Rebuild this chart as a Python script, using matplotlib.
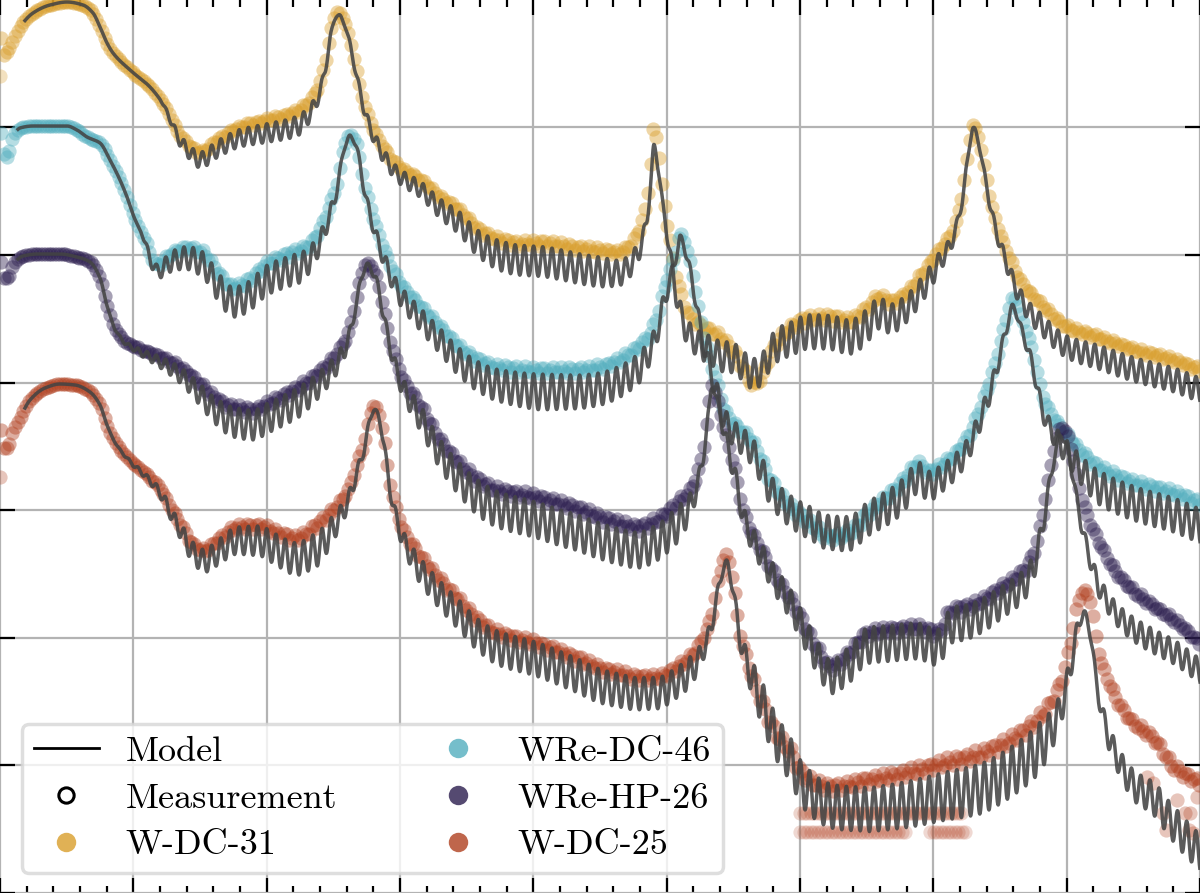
import numpy as np
import matplotlib
matplotlib.use("Agg")
import matplotlib.pyplot as plt
from matplotlib.lines import Line2D
from matplotlib.ticker import MultipleLocator

# ---------------- data (arbitrary units, waterfall offsets included) ----------------
labels = ["W-DC-31", "WRe-DC-46", "WRe-HP-26", "W-DC-25"]
colors = ["#D99E2B", "#52AEBE", "#2B1D4E", "#B0401F"]

# measurement control points
wdc31_x = [1, 4, 8, 20, 33, 50, 67, 83, 93, 100, 107, 113, 130, 150, 167, 177, 187, 200, 217, 240, 267, 293, 306, 318, 325, 331, 337, 344, 352, 360, 367, 379, 398, 421, 440, 459, 478, 498, 520, 540, 560, 580, 600, 619, 630, 638, 646, 651, 654, 658, 663, 670, 677, 688, 700, 715, 734, 745, 753, 762, 772, 791, 810, 830, 849, 868, 879, 891, 906, 925, 937, 952, 962, 967, 973, 979, 985, 994, 1006, 1021, 1040, 1067, 1098, 1136, 1174, 1200]
wdc31_y = [855, 838, 843, 866, 880, 888, 891, 888, 880, 866, 850, 840, 823, 806, 783, 763, 750, 741, 753, 766, 773, 780, 788, 806, 830, 863, 881, 873, 843, 806, 780, 753, 727, 713, 696, 683, 664, 654, 650, 650, 648, 645, 643, 641, 648, 661, 688, 733, 766, 743, 698, 653, 613, 580, 568, 560, 541, 521, 508, 518, 543, 566, 575, 576, 573, 586, 597, 591, 600, 623, 640, 661, 698, 733, 768, 753, 721, 678, 643, 611, 590, 566, 556, 543, 533, 523]

wre46_x = [1, 3, 7, 13, 20, 33, 67, 77, 87, 100, 110, 120, 127, 134, 145, 153, 157, 172, 188, 203, 218, 233, 245, 268, 291, 306, 318, 329, 337, 344, 350, 356, 364, 373, 383, 398, 421, 440, 459, 478, 498, 536, 574, 600, 619, 638, 650, 657, 663, 671, 677, 680, 686, 694, 703, 715, 726, 753, 772, 791, 810, 830, 849, 868, 891, 906, 918, 929, 944, 964, 983, 994, 1006, 1013, 1021, 1032, 1044, 1071, 1098, 1136, 1174, 1200]
wre46_y = [760, 740, 736, 756, 765, 767, 767, 763, 756, 750, 733, 713, 696, 676, 653, 633, 628, 640, 645, 640, 620, 606, 610, 630, 640, 646, 660, 686, 710, 746, 758, 750, 710, 676, 646, 613, 586, 566, 546, 533, 526, 523, 523, 526, 533, 546, 560, 576, 600, 626, 646, 660, 646, 610, 560, 516, 480, 450, 410, 386, 370, 356, 360, 380, 400, 416, 430, 421, 430, 450, 493, 526, 573, 596, 576, 543, 493, 453, 426, 410, 400, 390]

wre26_x = [1, 4, 8, 13, 23, 38, 60, 77, 90, 100, 107, 115, 126, 138, 161, 180, 199, 214, 233, 253, 268, 299, 318, 337, 348, 356, 362, 367, 375, 383, 390, 402, 421, 440, 459, 478, 498, 536, 574, 600, 619, 638, 657, 677, 692, 703, 709, 712, 716, 722, 734, 745, 761, 776, 791, 807, 822, 830, 849, 868, 891, 918, 937, 952, 967, 983, 1002, 1021, 1032, 1040, 1048, 1055, 1061, 1067, 1071, 1082, 1098, 1117, 1136, 1155, 1174, 1200]
wre26_y = [631, 615, 615, 628, 637, 639, 639, 636, 631, 615, 588, 565, 551, 545, 536, 526, 510, 496, 486, 483, 490, 506, 520, 540, 560, 593, 620, 630, 620, 586, 553, 516, 486, 453, 430, 413, 403, 396, 386, 376, 370, 366, 373, 390, 406, 443, 488, 508, 498, 473, 426, 376, 343, 316, 293, 263, 236, 226, 240, 260, 263, 266, 260, 283, 286, 293, 306, 320, 336, 366, 410, 448, 466, 458, 443, 393, 353, 320, 300, 286, 273, 250]

wdc25_x = [1, 4, 8, 12, 19, 30, 45, 60, 75, 90, 100, 107, 115, 130, 145, 161, 172, 184, 191, 203, 218, 237, 260, 276, 295, 314, 333, 348, 356, 364, 370, 374, 378, 383, 390, 402, 421, 440, 459, 478, 498, 536, 574, 600, 619, 638, 657, 677, 696, 711, 719, 726, 732, 740, 749, 761, 776, 791, 803, 830, 868, 906, 944, 983, 1021, 1040, 1059, 1071, 1078, 1084, 1090, 1098, 1109, 1128, 1155, 1174, 1200]
wdc25_y = [463, 445, 446, 460, 473, 493, 505, 509, 508, 501, 488, 468, 451, 433, 420, 403, 383, 363, 351, 343, 353, 366, 367, 361, 355, 366, 383, 403, 426, 450, 478, 488, 481, 460, 410, 366, 336, 313, 293, 273, 260, 250, 236, 225, 220, 216, 216, 226, 243, 276, 316, 338, 316, 260, 226, 193, 160, 140, 118, 106, 113, 120, 130, 140, 160, 176, 206, 253, 290, 303, 293, 243, 210, 176, 153, 126, 110]

meas_x = [wdc31_x, wre46_x, wre26_x, wdc25_x]
meas_y = [wdc31_y, wre46_y, wre26_y, wdc25_y]

# extra (noisy) measurement points
extra_x = [[0], [], [], [0, 1147, 1153, 1163, 1166, 1177, 1185, 1189, 1190, 1193, 1197]]
extra_y = [[817], [], [], [416, 116, 110, 80, 63, 93, 80, 63, 80, 60, 96]]
wdc25_rowA_x = [[800, 905], [930, 966]]
wdc25_rowA_y = 61
wdc25_rowB_x = [800, 963]
wdc25_rowB_y = 80

# model: offset below measurement and Fabry-Perot ripple amplitude at control points
wdc31_mx = [0, 160, 180, 200, 250, 300, 320, 334, 345, 360, 380, 420, 500, 600, 640, 654, 665, 680, 720, 753, 790, 860, 930, 973, 995, 1030, 1100, 1200]
wdc31_off = [0, 0, 6, 8, 12, 15, 10, 3, 3, 5, 8, 10, 16, 22, 20, 20, 10, 20, 20, -12, 12, 18, 15, 3, 8, 20, 20, 20]
wdc31_amp = [0, 0, 6, 8, 9, 10, 6, 2, 2, 5, 7, 8, 15, 15, 10, 3, 5, 12, 15, 15, 17, 17, 12, 2, 6, 10, 12, 12]

wre46_mx = [0, 140, 150, 170, 230, 300, 330, 345, 355, 370, 400, 460, 540, 640, 670, 680, 690, 720, 770, 830, 900, 990, 1013, 1040, 1100, 1200]
wre46_off = [0, 0, 5, 8, 15, 18, 10, 2, 2, 8, 12, 15, 22, 22, 10, 4, 8, 10, 10, -5, 15, 12, 10, 15, 20, 23]
wre46_amp = [0, 0, 5, 10, 15, 15, 8, 2, 2, 6, 10, 14, 18, 15, 8, 2, 6, 12, 15, 17, 17, 10, 3, 8, 17, 17]

wre26_mx = [0, 100, 130, 180, 230, 300, 340, 362, 367, 380, 420, 480, 560, 680, 700, 712, 730, 790, 850, 950, 1030, 1061, 1075, 1098, 1136, 1200]
wre26_off = [0, 0, 2, 8, 15, 15, 10, 3, 2, 5, 12, 18, 25, 22, 10, 2, 5, 5, 12, 15, 15, 8, 20, 45, 38, 28]
wre26_amp = [0, 0, 2, 8, 15, 15, 10, 3, 2, 5, 13, 18, 18, 18, 8, 2, 10, 15, 18, 18, 15, 3, 5, 10, 12, 12]

wdc25_mx = [0, 110, 150, 191, 210, 260, 320, 350, 374, 385, 420, 500, 600, 690, 715, 726, 740, 760, 800, 870, 980, 1040, 1070, 1084, 1095, 1109, 1136, 1174, 1200]
wdc25_off = [0, 0, 3, 8, 12, 15, 25, 10, 4, 5, 15, 15, 18, 15, 10, 8, 5, 0, 10, 30, 35, 30, 25, 23, 40, 55, 63, 57, 70]
wdc25_amp = [0, 0, 3, 10, 12, 15, 17, 8, 2, 5, 13, 17, 17, 15, 6, 3, 10, 22, 22, 22, 25, 25, 12, 4, 6, 12, 15, 18, 18]

model_x = [wdc31_mx, wre46_mx, wre26_mx, wdc25_mx]
model_off = [wdc31_off, wre46_off, wre26_off, wdc25_off]
model_amp = [wdc31_amp, wre46_amp, wre26_amp, wdc25_amp]
model_start = [25, 18, 18, 25]

fringe_period = 9.2      # fringe spacing (x units)
meas_ripple = 0.2        # fraction of fringe visible in measurement


def pchip(xk, yk, x):
    xk = np.asarray(xk, float)
    yk = np.asarray(yk, float)
    h = np.diff(xk)
    d = np.diff(yk) / h
    m = np.zeros_like(yk)
    m[0], m[-1] = d[0], d[-1]
    for k in range(1, len(xk) - 1):
        if d[k - 1] * d[k] <= 0:
            m[k] = 0.0
        else:
            w1 = 2 * h[k] + h[k - 1]
            w2 = h[k] + 2 * h[k - 1]
            m[k] = (w1 + w2) / (w1 / d[k - 1] + w2 / d[k])
    i = np.clip(np.searchsorted(xk, x) - 1, 0, len(xk) - 2)
    t = (x - xk[i]) / h[i]
    h00 = 2 * t**3 - 3 * t**2 + 1
    h10 = t**3 - 2 * t**2 + t
    h01 = -2 * t**3 + 3 * t**2
    h11 = t**3 - t**2
    return h00 * yk[i] + h10 * h[i] * m[i] + h01 * yk[i + 1] + h11 * h[i] * m[i + 1]


# ---------------- figure ----------------
plt.rcParams["font.family"] = "serif"
plt.rcParams["font.serif"] = ["cmr10"]
plt.rcParams["mathtext.fontset"] = "cm"
plt.rcParams["axes.formatter.use_mathtext"] = True

fig = plt.figure(figsize=(12, 8.93), dpi=100)
ax = fig.add_axes([0, 0, 1, 1])
ax.set_xlim(0, 1200)
ax.set_ylim(0, 893)

xg = 1200 / 9.0
yg = 127.6
ax.xaxis.set_major_locator(MultipleLocator(xg))
ax.xaxis.set_minor_locator(MultipleLocator(xg / 5))
ax.yaxis.set_major_locator(MultipleLocator(yg))
ax.grid(True, which="major", color="#b3b3b3", lw=1.6, zorder=0)
ax.set_axisbelow(True)
ax.tick_params(which="both", direction="in", top=True, right=True, bottom=True, left=True,
               labelbottom=False, labelleft=False, width=1.6, color="black")
ax.tick_params(which="major", length=11)
ax.tick_params(which="minor", length=5)
ax.tick_params(axis="y", which="minor", left=False, right=False)
for s in ax.spines.values():
    s.set_visible(False)

MS = 105
STEP = 2.8
for k in range(4):
    xs = np.arange(meas_x[k][0], meas_x[k][-1] + 0.01, STEP)
    amp_s = np.interp(xs, model_x[k], model_amp[k])
    ys = pchip(meas_x[k], meas_y[k], xs) + meas_ripple * amp_s * np.cos(2 * np.pi * xs / fringe_period)
    ax.scatter(xs, ys, s=MS, color=colors[k], alpha=0.42, linewidths=0, zorder=2)
    if extra_x[k]:
        ax.scatter(extra_x[k], extra_y[k], s=MS, color=colors[k], alpha=0.3, linewidths=0, zorder=2)

# noisy rows of the W-DC-25 measurement
for a, b in wdc25_rowA_x:
    rx = np.arange(a, b + 0.01, 3.5)
    ax.scatter(rx, np.full_like(rx, wdc25_rowA_y), s=MS, color=colors[3], alpha=0.2, linewidths=0, zorder=2)
rx = np.arange(wdc25_rowB_x[0], wdc25_rowB_x[1] + 0.01, 3.5)
ax.scatter(rx, np.full_like(rx, wdc25_rowB_y), s=MS, color=colors[3], alpha=0.22, linewidths=0, zorder=2)

for k in range(4):
    xm = np.arange(model_start[k], meas_x[k][-1] + 0.01, 0.4)
    base = pchip(meas_x[k], meas_y[k], xm) - np.interp(xm, model_x[k], model_off[k])
    amp = np.interp(xm, model_x[k], model_amp[k])
    ym = base + amp * np.cos(2 * np.pi * xm / fringe_period)
    ax.plot(xm, ym, color="#444444", lw=2.5, alpha=0.88, zorder=3)

handles = [
    Line2D([], [], color="black", lw=2.0),
    Line2D([], [], marker="o", ls="none", mfc="none", mec="black", ms=11, mew=2.2),
]
for k in range(4):
    handles.append(Line2D([], [], marker="o", ls="none", color=colors[k], alpha=0.8, ms=14, mew=0))
leg_labels = ["Model", "Measurement", labels[0], labels[1], labels[2], labels[3]]
leg = ax.legend(handles, leg_labels, ncol=2, loc="lower left", bbox_to_anchor=(0.018, 0.022),
                borderaxespad=0, fontsize=26, handlelength=1.8, handletextpad=0.75,
                columnspacing=2.45, labelspacing=0.4, framealpha=0.8, fancybox=True,
                edgecolor="#d6d6d6", borderpad=0.33)
leg.get_frame().set_linewidth(2.5)
leg.set_zorder(5)

fig.savefig("out.png", dpi=100)
